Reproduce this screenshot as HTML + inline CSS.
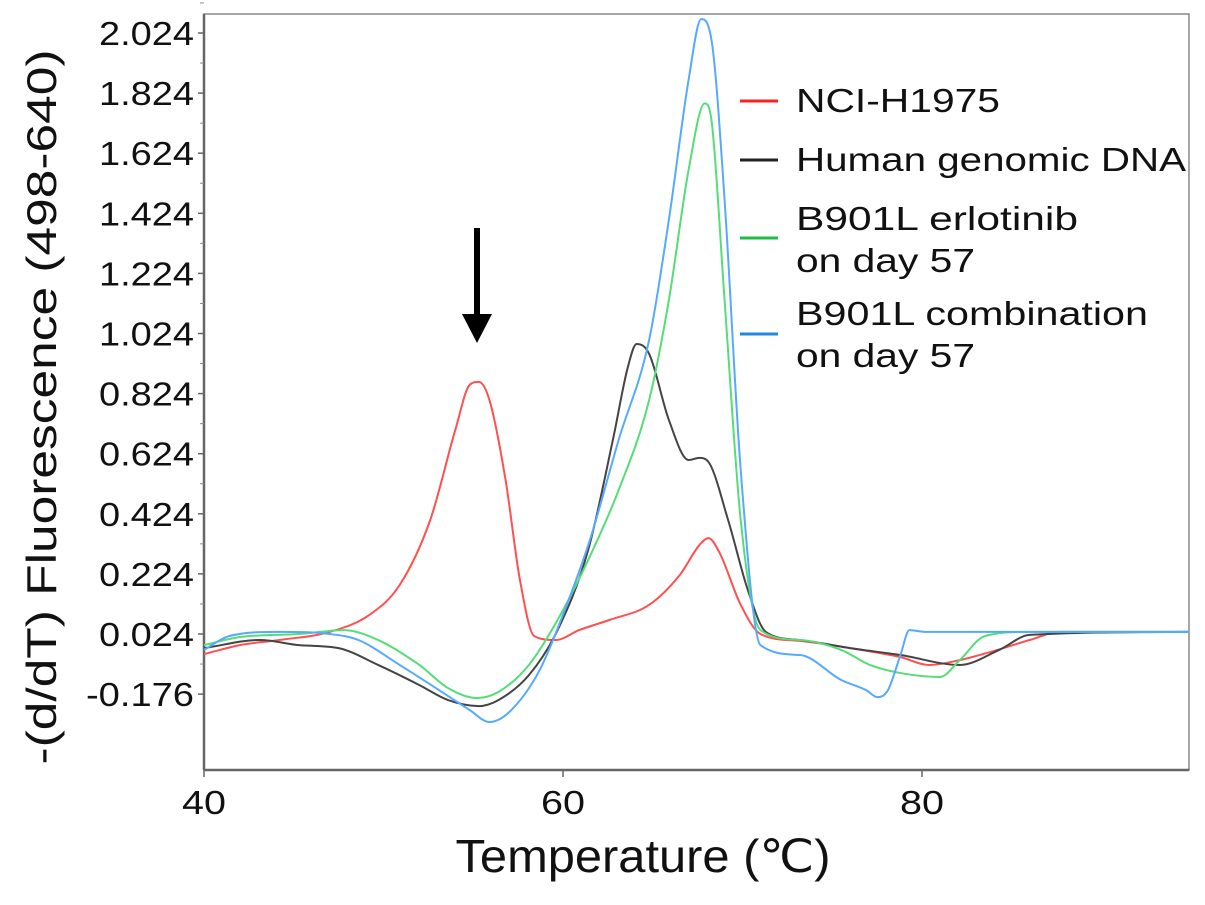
<!DOCTYPE html>
<html><head><meta charset="utf-8"><style>
body{margin:0;background:#fff}
svg text{font-family:"Liberation Sans",Arial,sans-serif;fill:#111}
</style></head><body>
<svg id="chart" width="1205" height="900" viewBox="0 0 1205 900" xmlns="http://www.w3.org/2000/svg">
<rect x="204" y="14" width="985" height="756" fill="#fff" stroke="#888" stroke-width="1.5"/>
<g id="axes"></g>
<g id="series"></g>
<g>
 <line x1="740" y1="101" x2="778" y2="101" stroke="#ff2020" stroke-width="3"/>
 <text x="796" y="112" font-size="33" textLength="204" lengthAdjust="spacingAndGlyphs">NCI-H1975</text>
 <line x1="740" y1="160" x2="778" y2="160" stroke="#222" stroke-width="3"/>
 <text x="796" y="171" font-size="33" textLength="390" lengthAdjust="spacingAndGlyphs">Human genomic DNA</text>
 <line x1="740" y1="238" x2="778" y2="238" stroke="#22bb44" stroke-width="3"/>
 <text x="796" y="230" font-size="33" textLength="282" lengthAdjust="spacingAndGlyphs">B901L  erlotinib</text>
 <text x="796" y="272" font-size="33" textLength="179" lengthAdjust="spacingAndGlyphs">on day 57</text>
 <line x1="740" y1="334" x2="778" y2="334" stroke="#2288dd" stroke-width="3"/>
 <text x="796" y="325" font-size="33" textLength="352" lengthAdjust="spacingAndGlyphs">B901L  combination</text>
 <text x="796" y="367" font-size="33" textLength="179" lengthAdjust="spacingAndGlyphs">on day 57</text>
</g>
<g>
 <line x1="477" y1="228" x2="477" y2="318" stroke="#000" stroke-width="6"/>
 <polygon points="462,314 492,314 477,343" fill="#000"/>
</g>
<text x="643" y="872" font-size="46" textLength="375" lengthAdjust="spacingAndGlyphs" text-anchor="middle">Temperature (℃)</text>
<text transform="translate(56,407) rotate(-90)" font-size="42" textLength="715" lengthAdjust="spacingAndGlyphs" text-anchor="middle">-(d/dT) Fluorescence (498-640)</text>
</svg>
<script>
const xTicks=[40,60,80];
const yTicks=[-0.176,0.024,0.224,0.424,0.624,0.824,1.024,1.224,1.424,1.624,1.824,2.024];
const names=["nci-h1975","human-genomic-dna","b901l-erlotinib","b901l-combination"];
const colors=["#ff5050","#444","#55dd77","#55aaff"];
const redT=[40,42,44.2,47,49.2,50.9,52.6,54,54.8,55.3,55.9,56.8,57.6,58.4,59.6,60.9,62.6,64.8,66.5,67.6,68.1,68.7,69.9,71,73.2,76,78.8,80.4,82.1,83.8,86,87.7,94.9];
const redV=[-0.043,-0.013,0.004,0.031,0.087,0.187,0.403,0.703,0.853,0.863,0.803,0.537,0.204,0.017,0.004,0.037,0.071,0.121,0.22,0.32,0.343,0.297,0.121,0.024,0.001,-0.023,-0.053,-0.079,-0.063,-0.036,0.004,0.031,0.031];
const blackT=[40,43.1,45.3,47.5,49.7,52,53.6,55.3,56.4,58.1,59.7,61.4,62.8,63.6,64.1,64.8,65.9,67,67.6,68.1,69.2,70.3,71.3,73.2,76,78.8,82.1,84.3,86,94.9];
const blackV=[-0.023,0.004,-0.013,-0.023,-0.079,-0.146,-0.196,-0.216,-0.196,-0.113,0.037,0.303,0.676,0.909,0.989,0.956,0.736,0.603,0.61,0.597,0.403,0.17,0.031,0.004,-0.023,-0.046,-0.079,-0.029,0.021,0.031];
const greenT=[40,42,45.3,47.8,49.7,52,53.6,55.2,56.4,58.1,59.7,61.4,63.1,64.8,65.9,67,67.9,68.3,69,69.9,71,73.2,75.5,77.1,78.8,81,82.1,83.5,86,94.9];
const greenV=[-0.013,0.014,0.024,0.037,0.004,-0.079,-0.156,-0.189,-0.169,-0.079,0.071,0.27,0.503,0.803,1.136,1.569,1.79,1.72,1.136,0.403,0.037,0.004,-0.029,-0.079,-0.106,-0.119,-0.063,0.017,0.031,0.031];
const blueT=[40,41.4,44.2,47,48.6,50.9,53.1,54.8,55.9,57,58.7,60.1,61.5,63.1,64.8,65.9,67,67.7,68.3,69,69.9,71,73.2,75.5,76.9,77.5,78.1,78.8,79.3,80.2,94.9];
const blueV=[-0.029,0.017,0.031,0.024,0.004,-0.079,-0.163,-0.229,-0.269,-0.236,-0.096,0.104,0.337,0.67,1.003,1.403,1.869,2.07,1.99,1.47,0.57,-0.013,-0.046,-0.129,-0.163,-0.186,-0.163,-0.046,0.037,0.031,0.031];
const seriesT=[redT,blackT,greenT,blueT];
const seriesV=[redV,blackV,greenV,blueV];
const NS="http://www.w3.org/2000/svg";
function xs(t){return 204+(t-40)*17.95;}
function ys(v){return 634-(v-0.024)*300.5;}
const axes=document.getElementById('axes');
function mk(tag,attrs,parent){const e=document.createElementNS(NS,tag);for(const k in attrs)e.setAttribute(k,attrs[k]);parent.appendChild(e);return e;}
const yl=mk('line',{x1:204,y1:14,x2:204,y2:770,stroke:'#666','stroke-width':2.5},axes);


const xl=mk('line',{x1:204,y1:770,x2:1189,y2:770,stroke:'#666','stroke-width':2.5},axes);


yTicks.forEach(v=>{
 const y=ys(v);
 const tk=mk('line',{x1:198,y1:y,x2:204,y2:y,stroke:'#666','stroke-width':1.5},axes);
 
 
 const mt=mk('line',{x1:200,y1:ys(v+0.1),x2:204,y2:ys(v+0.1),stroke:'#888','stroke-width':1},axes);
 
 
 const s=v.toFixed(3);
 const t=mk('text',{x:194,y:y+12,'font-size':33,'text-anchor':'end',textLength:s.length>5?108:95,lengthAdjust:'spacingAndGlyphs'},axes);
 t.textContent=s;
 
 
});
xTicks.forEach(v=>{
 const x=xs(v);
 const tk=mk('line',{x1:x,y1:770,x2:x,y2:777,stroke:'#666','stroke-width':1.5},axes);
 
 
 const t=mk('text',{x:x,y:814,'font-size':33,'text-anchor':'middle',textLength:44,lengthAdjust:'spacingAndGlyphs'},axes);
 t.textContent=String(v);
 
 
});
function pathFor(T,V){
 const n=T.length,x=T.map(xs),y=V.map(ys);
 const d=[],m=[];
 for(let i=0;i<n-1;i++)d.push((y[i+1]-y[i])/(x[i+1]-x[i]));
 m[0]=d[0];m[n-1]=d[n-2];
 for(let i=1;i<n-1;i++){m[i]=(d[i-1]*d[i]<=0)?0:(d[i-1]+d[i])/2;}
 for(let i=0;i<n-1;i++){
  if(d[i]===0){m[i]=0;m[i+1]=0;continue;}
  const a=m[i]/d[i],b=m[i+1]/d[i],s=a*a+b*b;
  if(s>9){const t=3/Math.sqrt(s);m[i]=t*a*d[i];m[i+1]=t*b*d[i];}
 }
 let p='M'+x[0]+','+y[0];
 for(let i=0;i<n-1;i++){
  const h=(x[i+1]-x[i])/3;
  p+=' C'+(x[i]+h)+','+(y[i]+m[i]*h)+' '+(x[i+1]-h)+','+(y[i+1]-m[i+1]*h)+' '+x[i+1]+','+y[i+1];
 }
 return p;
}
const sg=document.getElementById('series');
seriesT.forEach((T,i)=>{
 const el=mk('path',{d:pathFor(T,seriesV[i]),fill:'none',stroke:colors[i],'stroke-width':2},sg);
 
 
});
</script>
</body></html>
